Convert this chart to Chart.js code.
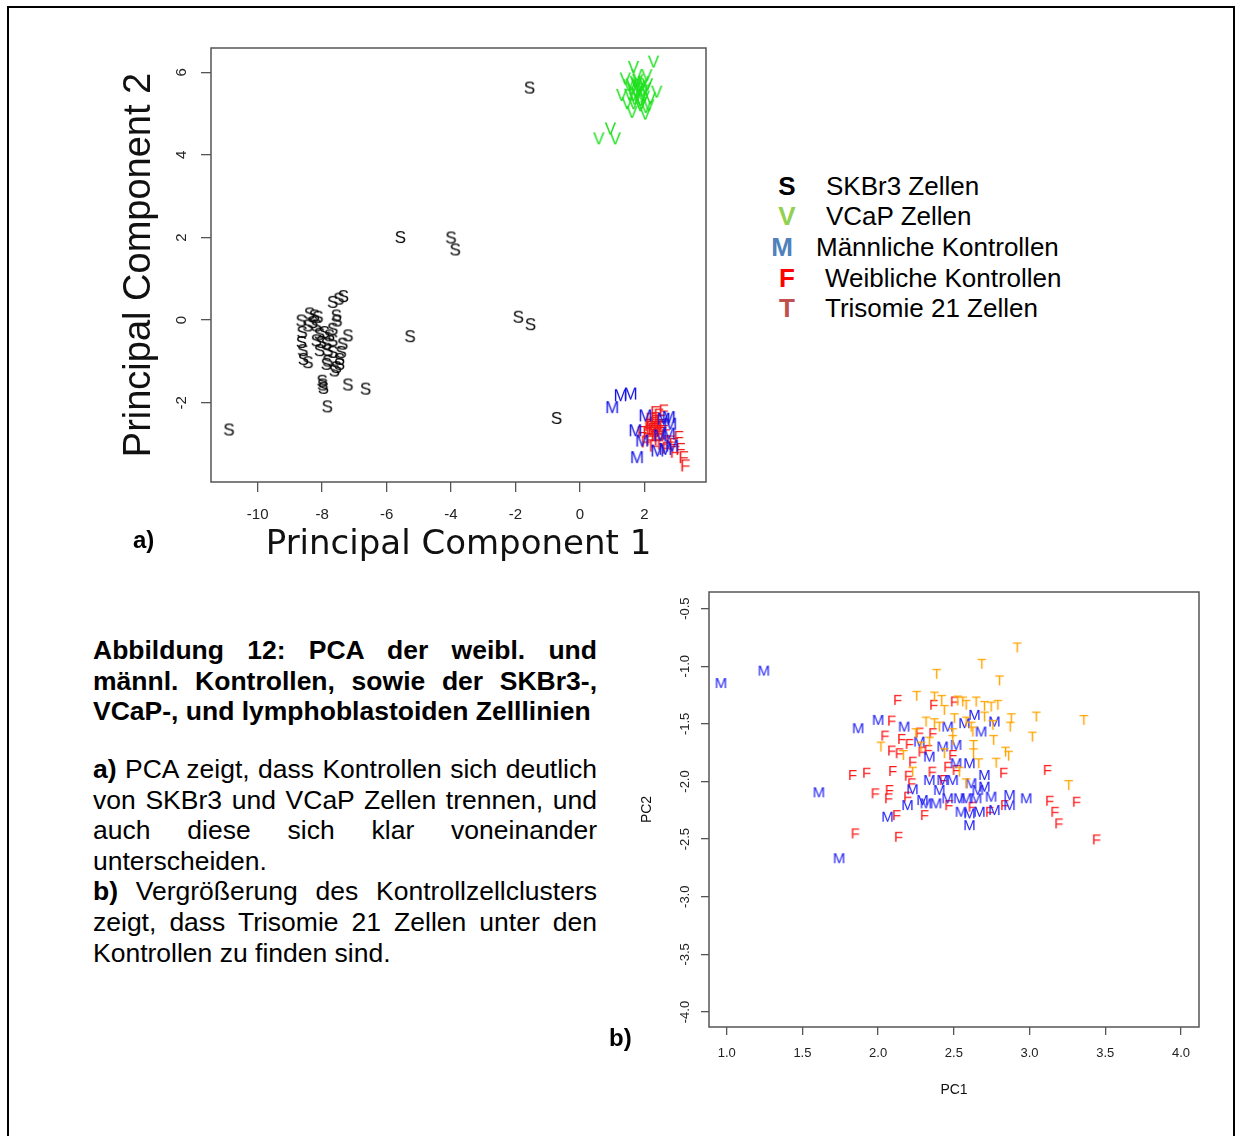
<!DOCTYPE html>
<html lang="de">
<head>
<meta charset="utf-8">
<title>Abbildung 12 – PCA</title>
<script src="https://cdn.jsdelivr.net/npm/chart.js@4.4.1/dist/chart.umd.min.js"></script>
<style>
  html, body { margin: 0; padding: 0; background: #fff; }
  body { width: 1235px; height: 1136px; position: relative; overflow: hidden;
         font-family: "Liberation Sans", Arial, sans-serif; color: #000; }
  .frame { position: absolute; left: 7px; top: 6px; width: 1228px; height: 1200px;
           border: 2px solid #000; box-sizing: border-box; }
  canvas { position: absolute; }
  #pcaA { left: 100px; top: 27px; }
  #pcaB { left: 630px; top: 580px; }
  .leg { position: absolute; font-size: 26px; line-height: 30px; white-space: nowrap; }
  .leg b { position: absolute; width: 40px; text-align: center; }
  .cap { position: absolute; left: 93px; width: 504px; font-size: 26.5px; }
  .cap div { height: 30.6px; line-height: 30.6px; white-space: nowrap; }
  .cap .j { text-align: justify; text-align-last: justify; }
  .panel { position: absolute; font-weight: bold; font-size: 24px; line-height: 28px; }
</style>
</head>
<body>
<div class="frame"></div>

<canvas id="pcaA" width="620" height="551"></canvas>
<canvas id="pcaB" width="590" height="530"></canvas>

<div class="leg" style="top:171px"><b style="left:767px;color:#000">S</b><span style="position:absolute;left:826px">SKBr3 Zellen</span></div>
<div class="leg" style="top:201px"><b style="left:767px;color:#92d050">V</b><span style="position:absolute;left:826px">VCaP Zellen</span></div>
<div class="leg" style="top:232px"><b style="left:762px;color:#4f81bd">M</b><span style="position:absolute;left:816px">Männliche Kontrollen</span></div>
<div class="leg" style="top:263px"><b style="left:767px;color:#ff0000">F</b><span style="position:absolute;left:825px">Weibliche Kontrollen</span></div>
<div class="leg" style="top:293px"><b style="left:767px;color:#c0504d">T</b><span style="position:absolute;left:825px">Trisomie 21 Zellen</span></div>

<div class="panel" style="left:133px;top:526px">a)</div>
<div class="panel" style="left:609px;top:1024px">b)</div>

<div class="cap" style="top:635px;font-weight:bold">
  <div class="j">Abbildung 12: PCA der weibl. und</div>
  <div class="j">männl. Kontrollen, sowie der SKBr3-,</div>
  <div>VCaP-, und lymphoblastoiden Zelllinien</div>
</div>
<div class="cap" style="top:754px">
  <div class="j"><b>a)</b> PCA zeigt, dass Kontrollen sich deutlich</div>
  <div class="j">von SKBr3 und VCaP Zellen trennen, und</div>
  <div class="j">auch diese sich klar voneinander</div>
  <div>unterscheiden.</div>
  <div class="j"><b>b)</b> Vergrößerung des Kontrollzellclusters</div>
  <div class="j">zeigt, dass Trisomie 21 Zellen unter den</div>
  <div>Kontrollen zu finden sind.</div>
</div>

<script>
// panel a) – all samples, PC1 / PC2
const PC1_TICKS_A = [-10, -8, -6, -4, -2, 0, 2];
const PC2_TICKS_A = [-2, 0, 2, 4, 6];

const skbr3A = [
  [-1.56, 5.62], [-5.57, 2.00], [-4.00, 1.99], [-3.87, 1.70], [-5.27, -0.40],
  [-1.91, 0.07], [-1.53, -0.11], [-0.72, -2.38], [-10.89, -2.66], [-7.84, -2.10],
  [-7.20, -1.57], [-6.65, -1.67], [-8.00, -1.48], [-7.98, -1.57], [-7.96, -1.65],
  [-7.67, 0.43], [-7.48, 0.51], [-7.34, 0.57], [-7.56, 0.10], [-7.54, -0.02],
  [-8.65, -0.02], [-8.62, -0.30], [-8.64, -0.54], [-8.60, -0.74], [-8.58, -0.95], [-8.44, -1.03],
  [-8.39, 0.15], [-8.24, 0.10], [-8.13, 0.07], [-8.29, -0.06], [-8.44, -0.14], [-8.18, -0.14],
  [-8.08, -0.34], [-7.93, -0.30], [-7.77, -0.38], [-8.18, -0.50], [-8.03, -0.54], [-7.87, -0.58],
  [-7.67, -0.50], [-8.08, -0.74], [-7.82, -0.74], [-7.67, -0.78], [-7.67, -0.22], [-7.20, -0.38],
  [-7.36, -0.58], [-7.41, -0.78], [-7.46, -0.95], [-7.56, -1.15], [-7.62, -1.23], [-7.46, -1.07],
  [-7.82, -0.99], [-7.87, -1.07],
];
const vcapA = [
  [2.29, 6.25], [1.67, 6.12], [0.59, 4.39], [0.95, 4.63], [1.10, 4.39],
  [1.41, 5.84], [2.39, 5.52], [1.30, 5.44], [1.62, 5.03], [2.03, 4.99], [1.88, 5.19],
  [2.19, 5.36], [1.52, 5.68], [1.98, 5.76], [1.77, 5.92], [2.08, 5.92], [1.67, 5.44],
  [1.83, 5.56], [1.93, 5.44], [1.72, 5.76], [1.62, 5.60], [2.03, 5.60], [1.88, 5.32],
  [1.47, 5.24], [2.14, 5.19], [1.77, 5.72], [1.93, 5.68], [1.67, 5.24],
  [1.75, 5.50], [1.85, 5.65], [1.70, 5.35], [1.95, 5.55], [1.80, 5.80], [2.00, 5.40],
  [1.60, 5.70], [1.90, 5.25], [1.78, 5.45], [2.10, 5.70], [1.55, 5.45], [2.05, 5.15],
];
const maleA = [
  [1.00, -2.12], [1.26, -1.83], [1.57, -1.79], [2.03, -2.32], [1.72, -2.68], [1.77, -3.33],
  [2.76, -2.36], [2.80, -2.52], [2.60, -2.40], [2.65, -3.13], [2.40, -3.17], [2.49, -2.80],
  [2.76, -2.76], [2.86, -3.05], [1.93, -2.93],
];
const femaleA = [
  [2.60, -2.20], [2.34, -2.24], [2.45, -2.30], [2.20, -2.40], [2.50, -2.45], [2.30, -2.50],
  [2.15, -2.55], [2.40, -2.60], [2.60, -2.55], [2.25, -2.65], [2.50, -2.70], [2.10, -2.75],
  [2.35, -2.80], [2.65, -2.80], [2.20, -2.90], [2.45, -2.90], [1.93, -2.72], [2.05, -2.95],
  [2.55, -3.00], [2.91, -3.01], [3.07, -2.84], [3.12, -3.13], [3.22, -3.33], [3.27, -3.53],
  [2.80, -2.95], [2.30, -3.05], [2.70, -3.10], [2.95, -3.20],
  [2.35, -2.45], [2.45, -2.55], [2.30, -2.70], [2.55, -2.60], [2.40, -2.75], [2.20, -2.60],
];

// panel b) – zoom on the control cluster
const PC1_TICKS_B = [1.0, 1.5, 2.0, 2.5, 3.0, 3.5, 4.0];
const PC2_TICKS_B = [-0.5, -1.0, -1.5, -2.0, -2.5, -3.0, -3.5, -4.0];

const maleB = [
  [0.962, -1.150], [1.245, -1.043], [1.868, -1.542], [2.000, -1.470], [1.609, -2.098],
  [2.062, -2.310], [2.172, -1.528], [2.272, -1.658], [2.194, -2.209], [2.227, -2.072],
  [2.316, -2.194], [2.382, -2.194], [2.338, -1.991], [2.404, -2.078], [2.426, -1.701],
  [2.459, -1.528], [2.515, -1.687], [2.570, -1.498], [2.636, -1.426], [2.680, -1.571],
  [2.768, -1.484], [2.515, -1.846], [2.603, -1.846], [2.702, -1.948], [2.492, -1.991],
  [2.426, -1.991], [2.459, -2.150], [2.536, -2.150], [2.614, -2.020], [2.658, -2.078],
  [2.702, -2.049], [2.746, -2.136], [2.581, -2.150], [2.647, -2.150], [2.547, -2.267],
  [2.603, -2.281], [2.669, -2.267], [2.768, -2.252], [2.603, -2.383], [2.868, -2.122],
  [2.868, -2.209], [2.978, -2.150], [2.293, -2.165], [2.338, -1.789], [1.742, -2.670],
];
const femaleB = [
  [2.128, -1.296], [2.088, -1.476], [2.044, -1.606], [2.154, -1.635], [2.088, -1.736],
  [2.139, -1.759], [2.205, -1.678], [2.272, -1.580], [2.360, -1.585], [2.366, -1.339],
  [2.503, -1.310], [2.227, -1.832], [2.289, -1.745], [1.830, -1.948], [1.923, -1.928],
  [2.095, -1.913], [2.199, -1.954], [2.221, -2.020], [1.980, -2.107], [2.073, -2.078],
  [2.068, -2.150], [2.194, -2.136], [2.121, -2.296], [2.305, -2.296], [1.848, -2.455],
  [2.134, -2.484], [2.356, -1.919], [2.430, -1.991], [2.459, -1.876], [2.492, -1.774],
  [2.515, -1.904], [2.466, -2.209], [2.620, -2.223], [2.735, -2.267], [2.834, -2.209],
  [2.828, -1.928], [3.117, -1.904], [3.132, -2.171], [3.166, -2.267], [3.192, -2.368],
  [3.309, -2.180], [3.441, -2.507], [2.329, -1.730],
];
const trisomyB = [
  [2.918, -0.841], [2.684, -0.983], [2.386, -1.070], [2.801, -1.127], [2.254, -1.261],
  [2.371, -1.267], [2.419, -1.296], [2.437, -1.383], [2.525, -1.302], [2.558, -1.310],
  [2.581, -1.339], [2.647, -1.310], [2.702, -1.348], [2.746, -1.354], [2.790, -1.339],
  [2.702, -1.441], [2.757, -1.513], [2.879, -1.455], [2.872, -1.528], [3.044, -1.441],
  [3.358, -1.470], [3.018, -1.615], [2.762, -1.643], [2.316, -1.484], [2.371, -1.498],
  [2.404, -1.528], [2.503, -1.455], [2.581, -1.484], [2.614, -1.528], [2.625, -1.571],
  [2.492, -1.585], [2.018, -1.701], [2.249, -1.585], [2.338, -1.658], [2.437, -1.759],
  [2.492, -1.643], [2.629, -1.687], [2.629, -1.759], [2.841, -1.745], [2.861, -1.780],
  [2.779, -1.841], [2.664, -1.846], [2.536, -1.919], [2.581, -2.020], [3.258, -2.035],
  [2.166, -1.774], [2.283, -1.701], [2.227, -1.919],
];

Chart.defaults.font.family = '"Liberation Sans", Arial, sans-serif';

// R-style text markers: each point is drawn as a letter
function letterMark(ch, color, size) {
  const c = document.createElement('canvas');
  c.width = Math.ceil(size * 1.1);
  c.height = Math.ceil(size * 1.1);
  const g = c.getContext('2d');
  g.font = `${size}px "Liberation Sans", Arial, sans-serif`;
  g.fillStyle = color;
  g.textAlign = 'center';
  g.textBaseline = 'middle';
  g.fillText(ch, c.width / 2, c.height / 2 + size * 0.03);
  return c;
}

function letterSet(label, pairs, ch, color, size) {
  return {
    label,
    data: pairs.map(([x, y]) => ({ x, y })),
    pointStyle: letterMark(ch, color, size),
    pointRadius: 5,
    showLine: false,
    clip: false,
  };
}

function axis({ min, max, ticks, size, fmt, tickLen, pad, font, title, titleFont, titlePad, vertical }) {
  return {
    type: 'linear',
    min,
    max,
    afterBuildTicks: (s) => { s.ticks = ticks.map((v) => ({ value: v })); },
    afterFit: (s) => { if (vertical) s.width = size; else s.height = size; },
    border: { display: false },
    grid: { drawOnChartArea: false, drawTicks: true, tickLength: tickLen, color: '#555', lineWidth: 1.3 },
    ticks: {
      autoSkip: false, padding: pad, color: '#222', font, callback: fmt,
      minRotation: vertical ? 90 : 0, maxRotation: vertical ? 90 : 0,
      crossAlign: vertical ? 'center' : 'near',
    },
    title: { display: true, text: title, color: '#111', font: titleFont, padding: titlePad },
  };
}

const boxPlugin = {
  id: 'box',
  afterDraw(chart, args, opts) {
    const { ctx, chartArea: a } = chart;
    ctx.save();
    ctx.strokeStyle = opts.color;
    ctx.lineWidth = opts.width;
    ctx.strokeRect(a.left, a.top, a.right - a.left, a.bottom - a.top);
    ctx.restore();
  },
};

function scatter(id, datasets, scales, padding) {
  return new Chart(document.getElementById(id), {
    type: 'scatter',
    data: { datasets },
    options: {
      responsive: false,
      animation: false,
      events: [],
      layout: { padding },
      plugins: { legend: { display: false }, tooltip: { enabled: false }, box: { color: '#555', width: 1.5 } },
      scales,
    },
    plugins: [boxPlugin],
  });
}

scatter('pcaA', [
  letterSet('SKBr3 Zellen', skbr3A, 'S', '#000000', 17),
  letterSet('VCaP Zellen', vcapA, 'V', '#1fe01f', 17),
  letterSet('Männliche Kontrollen', maleA, 'M', '#1414e6', 17),
  letterSet('Weibliche Kontrollen', femaleA, 'F', '#f01414', 17),
], {
  x: axis({
    min: -11.45, max: 3.915, ticks: PC1_TICKS_A, size: 96, fmt: (v) => String(v),
    tickLen: 10, pad: 14, font: { size: 15 },
    title: 'Principal Component 1', titleFont: { family: '"DejaVu Sans", sans-serif', size: 34 },
    titlePad: { top: 0, bottom: 12 },
  }),
  y: axis({
    min: -3.92, max: 6.59, ticks: PC2_TICKS_A, size: 111, fmt: (v) => String(v),
    tickLen: 10, pad: 12, font: { size: 15 }, vertical: true,
    title: 'Principal Component 2', titleFont: { size: 38 },
    titlePad: { top: 17, bottom: 0 },
  }),
}, { top: 21, right: 14, left: 0, bottom: 0 });

scatter('pcaB', [
  letterSet('Trisomie 21 Zellen', trisomyB, 'T', '#ffa500', 15),
  letterSet('Männliche Kontrollen', maleB, 'M', '#2020f5', 15),
  letterSet('Weibliche Kontrollen', femaleB, 'F', '#ff1a1a', 15),
], {
  x: axis({
    min: 0.883, max: 4.119, ticks: PC1_TICKS_B, size: 83, fmt: (v) => v.toFixed(1),
    tickLen: 8, pad: 11, font: { size: 13 },
    title: 'PC1', titleFont: { size: 14 },
    titlePad: { top: 0, bottom: 11 },
  }),
  y: axis({
    min: -4.13, max: -0.356, ticks: PC2_TICKS_B, size: 79, fmt: (v) => v.toFixed(1),
    tickLen: 8, pad: 4, font: { size: 13 }, vertical: true,
    title: 'PC2', titleFont: { size: 14 },
    titlePad: { top: 9, bottom: 0 },
  }),
}, { top: 12, right: 21, left: 0, bottom: 0 });
</script>
</body>
</html>
